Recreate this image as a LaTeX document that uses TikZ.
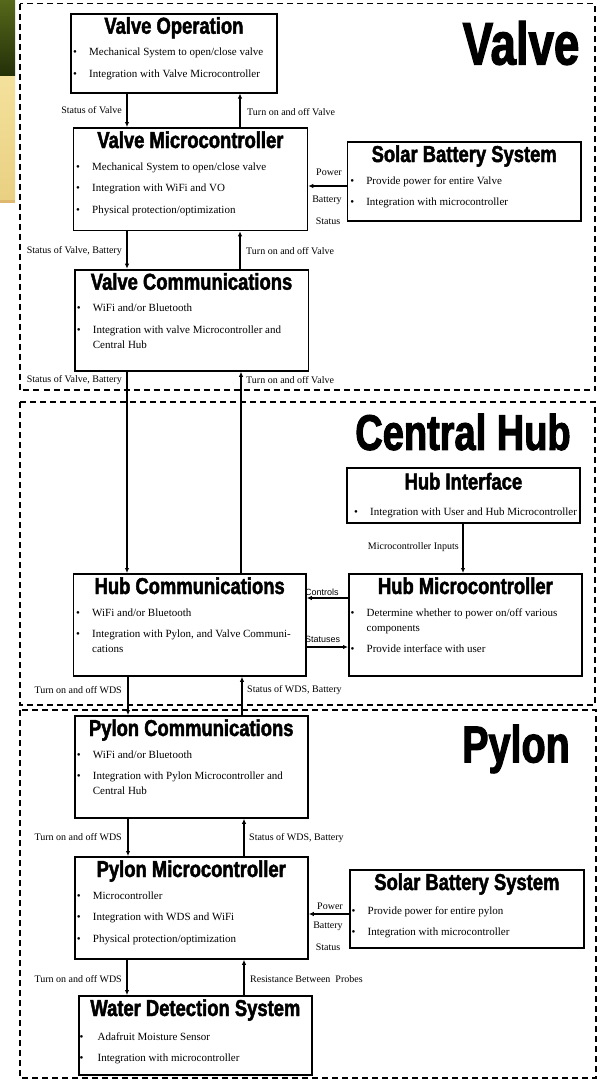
\documentclass[tikz,border=0pt]{standalone}
\usepackage{fontspec}
\setmainfont{Liberation Serif}
\newfontfamily\headfont[FakeStretch=0.8,FakeBold=2]{Liberation Sans}
\newfontfamily\bigfont[FakeStretch=0.76,FakeBold=2]{Liberation Sans}
\newfontfamily\lblsans{Liberation Sans}
\usetikzlibrary{arrows.meta}
\newcommand{\bl}{\makebox[16pt][l]{\textbullet}}
\newcommand{\cont}{\hspace*{16pt}}
\tikzset{
  frame/.style={draw, dash pattern=on 6pt off 4pt, line width=1.2pt},
  sysbox/.style={draw, line width=1.8pt, inner sep=0pt, anchor=north west},
  heading/.style={font=\headfont\bfseries\fontsize{23}{23}\selectfont, anchor=base},
  items/.style={font=\fontsize{11}{15}\selectfont, align=left, anchor=north west, inner sep=0pt},
  lbl/.style={font=\fontsize{10}{12}\selectfont, inner sep=0pt},
  arr/.style={-{Latex[length=5pt,width=4.5pt]}, line width=1.3pt},
}
\definecolor{olive}{HTML}{56681A}
\definecolor{olivedark}{HTML}{243008}
\definecolor{sand}{HTML}{F4E19C}
\definecolor{sanddark}{HTML}{E9D082}
\begin{document}
\begin{tikzpicture}[x=1pt,y=-1pt]
\useasboundingbox (0,0) rectangle (598,1080);
% slide edge
\shade[top color=olive, bottom color=olivedark] (0,0) rectangle (15,75);
\shade[top color=sand, bottom color=sanddark] (0,76) rectangle (15,200);
\fill[sanddark!70!brown] (0,200) rectangle (15,203);

% section frames
\draw[frame] (20,3.5) rectangle (595,390);
\draw[frame] (20,402) rectangle (595,705);
\draw[frame] (20,710) rectangle (596,1078);
\node[font=\bigfont\bfseries\fontsize{60}{60}\selectfont] (valvetag) at (521,43) {Valve};
\node[font=\bigfont\bfseries\fontsize{50}{50}\selectfont] (hubtag) at (463,432) {Central Hub};
\node[font=\bigfont\bfseries\fontsize{52}{52}\selectfont] (pylontag) at (516,749) {Pylon};

%% Valve
\node[sysbox, minimum width=206pt, minimum height=79pt] (vo) at (70,12.7) {};
\node[heading] (vo-t) at ([yshift=-21pt]vo.north) {Valve Operation};
\node[items] (vo-l) at ([xshift=3pt,yshift=-35.2pt]vo.north west)
  {\bl Mechanical System to open/close valve\\[6.5pt]
   \bl Integration with Valve Microcontroller};

\node[sysbox, minimum width=234pt, minimum height=102.5pt] (vmc) at (72.5,127) {};
\node[heading] (vmc-t) at ([yshift=-21pt]vmc.north) {Valve Microcontroller};
\node[items] (vmc-l) at ([xshift=3.5pt,yshift=-35.2pt]vmc.north west)
  {\bl Mechanical System to open/close valve\\[6.5pt]
   \bl Integration with WiFi and VO\\[6.5pt]
   \bl Physical protection/optimization};

\node[sysbox, minimum width=233.4pt, minimum height=79pt] (vsol) at (346.6,141) {};
\node[heading] (vsol-t) at ([yshift=-21pt]vsol.north) {Solar Battery System};
\node[items] (vsol-l) at ([xshift=3.5pt,yshift=-35.2pt]vsol.north west)
  {\bl Provide power for entire Valve\\[6.5pt]
   \bl Integration with microcontroller};

\node[sysbox, minimum width=233.9pt, minimum height=101.3pt] (vc) at (73.7,268.7) {};
\node[heading] (vc-t) at ([yshift=-21pt]vc.north) {Valve Communications};
\node[items] (vc-l) at ([xshift=3pt,yshift=-35.2pt]vc.north west)
  {\bl WiFi and/or Bluetooth\\[6.5pt]
   \bl Integration with valve Microcontroller and\\
   \cont Central Hub};

%% Central Hub
\node[sysbox, minimum width=233pt, minimum height=55pt] (hi) at (346,467) {};
\node[heading] (hi-t) at ([yshift=-22.5pt]hi.north) {Hub Interface};
\node[items] (hi-l) at ([xshift=8pt,yshift=-40.2pt]hi.north west)
  {\bl Integration with User and Hub Microcontroller};

\node[sysbox, minimum width=233pt, minimum height=102pt] (hm) at (348,573) {};
\node[heading] (hm-t) at ([yshift=-21pt]hm.north) {Hub Microcontroller};
\node[items] (hm-l) at ([xshift=2.5pt,yshift=-35.2pt]hm.north west)
  {\bl Determine whether to power on/off various\\
   \cont components\\[6.5pt]
   \bl Provide interface with user};

\node[sysbox, minimum width=232.5pt, minimum height=102pt] (hc) at (72.5,573) {};
\node[heading] (hc-t) at ([yshift=-21pt]hc.north) {Hub Communications};
\node[items] (hc-l) at ([xshift=3.5pt,yshift=-35.2pt]hc.north west)
  {\bl WiFi and/or Bluetooth\\[6.5pt]
   \bl Integration with Pylon, and Valve Communi-\\
   \cont cations};

%% Pylon
\node[sysbox, minimum width=233.3pt, minimum height=102pt] (pc) at (73.7,715) {};
\node[heading] (pc-t) at ([yshift=-21pt]pc.north) {Pylon Communications};
\node[items] (pc-l) at ([xshift=3pt,yshift=-35.2pt]pc.north west)
  {\bl WiFi and/or Bluetooth\\[6.5pt]
   \bl Integration with Pylon Microcontroller and\\
   \cont Central Hub};

\node[sysbox, minimum width=233.3pt, minimum height=102pt] (pmc) at (73.7,856) {};
\node[heading] (pmc-t) at ([yshift=-21pt]pmc.north) {Pylon Microcontroller};
\node[items] (pmc-l) at ([xshift=3pt,yshift=-35.2pt]pmc.north west)
  {\bl Microcontroller\\[6.5pt]
   \bl Integration with WDS and WiFi\\[6.5pt]
   \bl Physical protection/optimization};

\node[sysbox, minimum width=234pt, minimum height=78pt] (psol) at (349,869) {};
\node[heading] (psol-t) at ([yshift=-21pt]psol.north) {Solar Battery System};
\node[items] (psol-l) at ([xshift=2.5pt,yshift=-37.2pt]psol.north west)
  {\bl Provide power for entire pylon\\[6.5pt]
   \bl Integration with microcontroller};

\node[sysbox, minimum width=233pt, minimum height=79pt] (wds) at (78,995) {};
\node[heading] (wds-t) at ([yshift=-21pt]wds.north) {Water Detection System};
\node[items] (wds-l) at ([xshift=1.5pt,yshift=-37.2pt]wds.north west)
  {\bl\hspace{2pt}Adafruit Moisture Sensor\\[6.5pt]
   \bl\hspace{2pt}Integration with microcontroller};

%% connectors
\draw[arr] (vo.south -| 127,0) -- (vmc.north -| 127,0);
\draw[arr] (vmc.north -| 240,0) -- (vo.south -| 240,0);
\draw[arr] (vmc.south -| 127,0) -- (vc.north -| 127,0);
\draw[arr] (vc.north -| 240,0) -- (vmc.south -| 240,0);
\draw[arr] (vsol.west |- 0,186) -- (vmc.east |- 0,186);
\draw[arr] (vc.south -| 127,0) -- (hc.north -| 127,0);
\draw[arr] (hc.north -| 241,0) -- (vc.south -| 241,0);
\draw[arr] (hi.south -| 463,0) -- (hm.north -| 463,0);
\draw[arr] (hm.west |- 0,598) -- (hc.east |- 0,598);
\draw[arr] (hc.east |- 0,647) -- (hm.west |- 0,647);
\draw[arr] (hc.south -| 128,0) -- (pc.north -| 128,0);
\draw[arr] (pc.north -| 242,0) -- (hc.south -| 242,0);
\draw[arr] (pc.south -| 128,0) -- (pmc.north -| 128,0);
\draw[arr] (pmc.north -| 244,0) -- (pc.south -| 244,0);
\draw[arr] (psol.west |- 0,914) -- (pmc.east |- 0,914);
\draw[arr] (pmc.south -| 127,0) -- (wds.north -| 127,0);
\draw[arr] (wds.north -| 244,0) -- (pmc.south -| 244,0);

%% labels
\node[lbl, anchor=east] (l1) at (122,110) {Status of Valve};
\node[lbl, anchor=west] (l2) at (247,112) {Turn on and off Valve};
\node[lbl, anchor=east] (l3) at (122,251) {Status of Valve, Battery};
\node[lbl, anchor=west] (l4) at (246,251) {Turn on and off Valve};
\node[lbl] (l5) at (329,172) {Power};
\node[lbl] (l6) at (327,200) {Battery};
\node[lbl] (l7) at (328,221) {Status};
\node[lbl, anchor=east] (l8) at (122,380) {Status of Valve, Battery};
\node[lbl, anchor=west] (l9) at (246,380) {Turn on and off Valve};
\node[lbl, anchor=east] (l10) at (459,547) {Microcontroller Inputs};
\node[lbl, font=\lblsans\fontsize{9}{10}\selectfont, anchor=west] (l11) at (305,592) {Controls};
\node[lbl, font=\lblsans\fontsize{9}{10}\selectfont, anchor=west] (l12) at (305,639) {Statuses};
\node[lbl, anchor=east] (l13) at (122,690) {Turn on and off WDS};
\node[lbl, anchor=west] (l14) at (247,690) {Status of WDS, Battery};
\node[lbl, anchor=east] (l15) at (122,837) {Turn on and off WDS};
\node[lbl, anchor=west] (l16) at (249,838) {Status of WDS, Battery};
\node[lbl] (l17) at (330,906) {Power};
\node[lbl] (l18) at (328,926) {Battery};
\node[lbl] (l19) at (328,947) {Status};
\node[lbl, anchor=east] (l20) at (122,979) {Turn on and off WDS};
\node[lbl, anchor=west] (l21) at (250,979) {Resistance Between\ \ Probes};
\end{tikzpicture}
\end{document}
